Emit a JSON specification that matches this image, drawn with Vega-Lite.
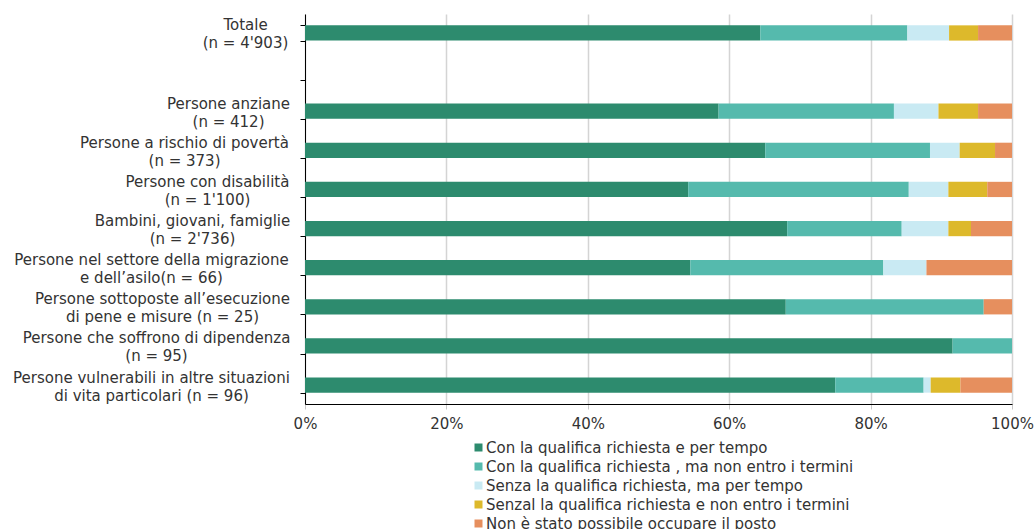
{
  "$schema": "https://vega.github.io/schema/vega-lite/v6.json",
  "width": 707,
  "height": 390,
  "autosize": {"type": "none"},
  "padding": {"left": 305, "top": 14, "right": 24, "bottom": 125},
  "background": "#ffffff",
  "config": {
    "view": {"stroke": null},
    "font": "DejaVu Sans"
  },
  "data": {
    "values": [
      {"g": "Totale|(n = 4'903)", "t": "Con la qualifica richiesta e per tempo", "v": 64.4, "o": 1},
      {"g": "Totale|(n = 4'903)", "t": "Con la qualifica richiesta , ma non entro i termini", "v": 20.8, "o": 2},
      {"g": "Totale|(n = 4'903)", "t": "Senza la qualifica richiesta, ma per tempo", "v": 5.9, "o": 3},
      {"g": "Totale|(n = 4'903)", "t": "Senzal la qualifica richiesta e non entro i termini", "v": 4.1, "o": 4},
      {"g": "Totale|(n = 4'903)", "t": "Non è stato possibile occupare il posto", "v": 4.8, "o": 5},
      {"g": "Persone anziane|(n = 412)", "t": "Con la qualifica richiesta e per tempo", "v": 58.5, "o": 1},
      {"g": "Persone anziane|(n = 412)", "t": "Con la qualifica richiesta , ma non entro i termini", "v": 24.8, "o": 2},
      {"g": "Persone anziane|(n = 412)", "t": "Senza la qualifica richiesta, ma per tempo", "v": 6.3, "o": 3},
      {"g": "Persone anziane|(n = 412)", "t": "Senzal la qualifica richiesta e non entro i termini", "v": 5.6, "o": 4},
      {"g": "Persone anziane|(n = 412)", "t": "Non è stato possibile occupare il posto", "v": 4.8, "o": 5},
      {"g": "Persone a rischio di povertà|(n = 373)", "t": "Con la qualifica richiesta e per tempo", "v": 65.1, "o": 1},
      {"g": "Persone a rischio di povertà|(n = 373)", "t": "Con la qualifica richiesta , ma non entro i termini", "v": 23.3, "o": 2},
      {"g": "Persone a rischio di povertà|(n = 373)", "t": "Senza la qualifica richiesta, ma per tempo", "v": 4.2, "o": 3},
      {"g": "Persone a rischio di povertà|(n = 373)", "t": "Senzal la qualifica richiesta e non entro i termini", "v": 5.0, "o": 4},
      {"g": "Persone a rischio di povertà|(n = 373)", "t": "Non è stato possibile occupare il posto", "v": 2.4, "o": 5},
      {"g": "Persone con disabilità|(n = 1'100)", "t": "Con la qualifica richiesta e per tempo", "v": 54.2, "o": 1},
      {"g": "Persone con disabilità|(n = 1'100)", "t": "Con la qualifica richiesta , ma non entro i termini", "v": 31.2, "o": 2},
      {"g": "Persone con disabilità|(n = 1'100)", "t": "Senza la qualifica richiesta, ma per tempo", "v": 5.6, "o": 3},
      {"g": "Persone con disabilità|(n = 1'100)", "t": "Senzal la qualifica richiesta e non entro i termini", "v": 5.5, "o": 4},
      {"g": "Persone con disabilità|(n = 1'100)", "t": "Non è stato possibile occupare il posto", "v": 3.5, "o": 5},
      {"g": "Bambini, giovani, famiglie|(n = 2'736)", "t": "Con la qualifica richiesta e per tempo", "v": 68.2, "o": 1},
      {"g": "Bambini, giovani, famiglie|(n = 2'736)", "t": "Con la qualifica richiesta , ma non entro i termini", "v": 16.2, "o": 2},
      {"g": "Bambini, giovani, famiglie|(n = 2'736)", "t": "Senza la qualifica richiesta, ma per tempo", "v": 6.6, "o": 3},
      {"g": "Bambini, giovani, famiglie|(n = 2'736)", "t": "Senzal la qualifica richiesta e non entro i termini", "v": 3.2, "o": 4},
      {"g": "Bambini, giovani, famiglie|(n = 2'736)", "t": "Non è stato possibile occupare il posto", "v": 5.8, "o": 5},
      {"g": "Persone nel settore della migrazione|e dell’asilo(n = 66)", "t": "Con la qualifica richiesta e per tempo", "v": 54.5, "o": 1},
      {"g": "Persone nel settore della migrazione|e dell’asilo(n = 66)", "t": "Con la qualifica richiesta , ma non entro i termini", "v": 27.3, "o": 2},
      {"g": "Persone nel settore della migrazione|e dell’asilo(n = 66)", "t": "Senza la qualifica richiesta, ma per tempo", "v": 6.1, "o": 3},
      {"g": "Persone nel settore della migrazione|e dell’asilo(n = 66)", "t": "Senzal la qualifica richiesta e non entro i termini", "v": 0, "o": 4},
      {"g": "Persone nel settore della migrazione|e dell’asilo(n = 66)", "t": "Non è stato possibile occupare il posto", "v": 12.1, "o": 5},
      {"g": "Persone sottoposte all’esecuzione|di pene e misure (n = 25)", "t": "Con la qualifica richiesta e per tempo", "v": 68, "o": 1},
      {"g": "Persone sottoposte all’esecuzione|di pene e misure (n = 25)", "t": "Con la qualifica richiesta , ma non entro i termini", "v": 28, "o": 2},
      {"g": "Persone sottoposte all’esecuzione|di pene e misure (n = 25)", "t": "Senza la qualifica richiesta, ma per tempo", "v": 0, "o": 3},
      {"g": "Persone sottoposte all’esecuzione|di pene e misure (n = 25)", "t": "Senzal la qualifica richiesta e non entro i termini", "v": 0, "o": 4},
      {"g": "Persone sottoposte all’esecuzione|di pene e misure (n = 25)", "t": "Non è stato possibile occupare il posto", "v": 4, "o": 5},
      {"g": "Persone che soffrono di dipendenza|(n = 95)", "t": "Con la qualifica richiesta e per tempo", "v": 91.6, "o": 1},
      {"g": "Persone che soffrono di dipendenza|(n = 95)", "t": "Con la qualifica richiesta , ma non entro i termini", "v": 8.4, "o": 2},
      {"g": "Persone che soffrono di dipendenza|(n = 95)", "t": "Senza la qualifica richiesta, ma per tempo", "v": 0, "o": 3},
      {"g": "Persone che soffrono di dipendenza|(n = 95)", "t": "Senzal la qualifica richiesta e non entro i termini", "v": 0, "o": 4},
      {"g": "Persone che soffrono di dipendenza|(n = 95)", "t": "Non è stato possibile occupare il posto", "v": 0, "o": 5},
      {"g": "Persone vulnerabili in altre situazioni|di vita particolari (n = 96)", "t": "Con la qualifica richiesta e per tempo", "v": 75.0, "o": 1},
      {"g": "Persone vulnerabili in altre situazioni|di vita particolari (n = 96)", "t": "Con la qualifica richiesta , ma non entro i termini", "v": 12.5, "o": 2},
      {"g": "Persone vulnerabili in altre situazioni|di vita particolari (n = 96)", "t": "Senza la qualifica richiesta, ma per tempo", "v": 1.0, "o": 3},
      {"g": "Persone vulnerabili in altre situazioni|di vita particolari (n = 96)", "t": "Senzal la qualifica richiesta e non entro i termini", "v": 4.2, "o": 4},
      {"g": "Persone vulnerabili in altre situazioni|di vita particolari (n = 96)", "t": "Non è stato possibile occupare il posto", "v": 7.3, "o": 5}
    ]
  },
  "mark": {"type": "bar"},
  "encoding": {
    "y": {
      "field": "g",
      "type": "nominal",
      "scale": {
        "domain": [
          "Totale|(n = 4'903)",
          " ",
          "Persone anziane|(n = 412)",
          "Persone a rischio di povertà|(n = 373)",
          "Persone con disabilità|(n = 1'100)",
          "Bambini, giovani, famiglie|(n = 2'736)",
          "Persone nel settore della migrazione|e dell’asilo(n = 66)",
          "Persone sottoposte all’esecuzione|di pene e misure (n = 25)",
          "Persone che soffrono di dipendenza|(n = 95)",
          "Persone vulnerabili in altre situazioni|di vita particolari (n = 96)"
        ],
        "paddingInner": 0.61,
        "paddingOuter": 0.29
      },
      "axis": {
        "title": null,
        "labelExpr": "split(datum.label + '', '|')",
        "labelFont": "DejaVu Sans",
        "labelFontSize": 15,
        "labelLineHeight": 18,
        "labelColor": "#333333",
        "labelAlign": "center",
        "labelBaseline": "middle",
        "labelOffset": -8,
        "labelLimit": 400,
        "labelPadding": 9,
        "tickBand": "extent",
        "tickSize": 5,
        "tickColor": "#000000",
        "domainColor": "#000000",
        "grid": false,
        "encoding": {
          "labels": {
            "dx": {
              "condition": [
                {"test": "indexof(datum.value + '', 'Totale') === 0", "value": -46},
                {"test": "indexof(datum.value + '', 'anziane') >= 0", "value": -63},
                {"test": "indexof(datum.value + '', 'rischio') >= 0", "value": -107},
                {"test": "indexof(datum.value + '', 'disabilit') >= 0", "value": -84},
                {"test": "indexof(datum.value + '', 'Bambini') >= 0", "value": -99},
                {"test": "indexof(datum.value + '', 'sottoposte') >= 0", "value": -129},
                {"test": "indexof(datum.value + '', 'dipendenza') >= 0", "value": -135}
              ],
              "value": -140
            }
          }
        }
      }
    },
    "x": {
      "field": "v",
      "type": "quantitative",
      "stack": "normalize",
      "scale": {"domain": [0, 1], "nice": false},
      "axis": {
        "title": null,
        "format": ".0%",
        "values": [0, 0.2, 0.4, 0.6, 0.8, 1],
        "labelFont": "DejaVu Sans",
        "labelFontSize": 15,
        "labelColor": "#333333",
        "labelPadding": 7,
        "labelFlush": false,
        "grid": true,
        "gridColor": "#d4d4d4",
        "gridWidth": 1.5,
        "tickColor": "#c8c8c8",
        "tickSize": 5,
        "domainColor": "#000000"
      }
    },
    "color": {
      "field": "t",
      "type": "nominal",
      "scale": {
        "domain": [
          "Con la qualifica richiesta e per tempo",
          "Con la qualifica richiesta , ma non entro i termini",
          "Senza la qualifica richiesta, ma per tempo",
          "Senzal la qualifica richiesta e non entro i termini",
          "Non è stato possibile occupare il posto"
        ],
        "range": ["#2D8B6E", "#55BAAD", "#C9EAF3", "#DDB92B", "#E68F5E"]
      },
      "legend": {
        "title": null,
        "orient": "none",
        "legendX": 166,
        "legendY": 426,
        "direction": "vertical",
        "padding": 0,
        "symbolType": "square",
        "symbolSize": 64,
        "symbolStrokeWidth": 0,
        "labelFont": "DejaVu Sans",
        "labelFontSize": 15,
        "labelColor": "#333333",
        "labelOffset": 0,
        "labelLimit": 600,
        "rowPadding": 3
      }
    },
    "order": {"field": "o", "type": "quantitative"}
  }
}
